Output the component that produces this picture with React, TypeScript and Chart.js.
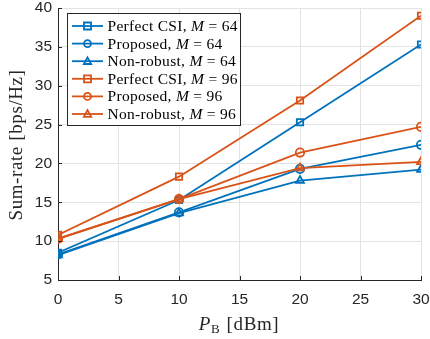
import React, { useEffect, useRef } from "react";
import { Chart, registerables } from "chart.js";
Chart.register(...registerables);

const powers = [0, 10, 20, 30];
const perfect64 = [8.5, 15.3, 25.3, 35.3];
const proposed64 = [8.3, 13.7, 19.3, 22.4];
const nonrobust64 = [8.2, 13.6, 17.8, 19.2];
const perfect96 = [10.8, 18.3, 28.1, 39.0];
const proposed96 = [10.3, 15.4, 21.4, 24.7];
const nonrobust96 = [10.3, 15.4, 19.4, 20.2];
const xTicks = [0, 5, 10, 15, 20, 25, 30];
const yTicks = [5, 10, 15, 20, 25, 30, 35, 40];

const BLUE = "#0072BD";
const ORANGE = "#D95319";

const legendItems = [
  { name: "Perfect CSI, ", m: "64", color: BLUE, style: "rect" },
  { name: "Proposed, ", m: "64", color: BLUE, style: "circle" },
  { name: "Non-robust, ", m: "64", color: BLUE, style: "triangle" },
  { name: "Perfect CSI, ", m: "96", color: ORANGE, style: "rect" },
  { name: "Proposed, ", m: "96", color: ORANGE, style: "circle" },
  { name: "Non-robust, ", m: "96", color: ORANGE, style: "triangle" },
];

const seriesList = [
  { data: perfect64, color: BLUE, style: "rect" },
  { data: proposed64, color: BLUE, style: "circle" },
  { data: nonrobust64, color: BLUE, style: "triangle" },
  { data: perfect96, color: ORANGE, style: "rect" },
  { data: proposed96, color: ORANGE, style: "circle" },
  { data: nonrobust96, color: ORANGE, style: "triangle" },
];

function drawMarker(ctx: CanvasRenderingContext2D, style: string, x: number, y: number, r: number) {
  ctx.beginPath();
  if (style === "rect") {
    ctx.rect(x - r, y - r, 2 * r, 2 * r);
  } else if (style === "circle") {
    ctx.arc(x, y, r, 0, Math.PI * 2);
  } else {
    ctx.moveTo(x, y - r * 1.1);
    ctx.lineTo(x + r * 1.05, y + r * 0.8);
    ctx.lineTo(x - r * 1.05, y + r * 0.8);
    ctx.closePath();
  }
  ctx.stroke();
}

const decorPlugin = {
  id: "decor",
  afterDraw(chart: any) {
    const ctx: any = chart.ctx;
    const xs = chart.scales.x;
    const ys = chart.scales.y;
    const area = chart.chartArea;
    ctx.save();
    // inward ticks
    ctx.strokeStyle = "#262626";
    ctx.lineWidth = 1;
    xTicks.forEach((t) => {
      const px = Math.round(xs.getPixelForValue(t)) + 0.5;
      ctx.beginPath();
      ctx.moveTo(px, area.bottom);
      ctx.lineTo(px, area.bottom - 4);
      ctx.stroke();
    });
    yTicks.forEach((t) => {
      const py = Math.round(ys.getPixelForValue(t)) + 0.5;
      ctx.beginPath();
      ctx.moveTo(area.left, py);
      ctx.lineTo(area.left + 4, py);
      ctx.stroke();
    });

    // y title
    ctx.fillStyle = "#262626";
    ctx.font = "19px 'Liberation Serif'";
    ctx.letterSpacing = "0.6px";
    ctx.textAlign = "center";
    ctx.textBaseline = "middle";
    ctx.save();
    ctx.translate(17, 145);
    ctx.rotate(-Math.PI / 2);
    ctx.fillText("Sum-rate [bps/Hz]", 0, 0);
    ctx.restore();

    // x title: P_B [dBm]
    const cx = 239;
    const ty = 330;
    ctx.textAlign = "left";
    ctx.textBaseline = "alphabetic";
    const fP = "italic 19px 'Liberation Serif'";
    const fSub = "13px 'Liberation Serif'";
    const fR = "19px 'Liberation Serif'";
    ctx.font = fP;
    const wP = ctx.measureText("P").width;
    ctx.font = fSub;
    const wB = ctx.measureText("B").width;
    ctx.font = fR;
    const wR = ctx.measureText(" [dBm]").width;
    let x0 = cx - (wP + wB + 1 + wR) / 2;
    ctx.font = fP;
    ctx.fillText("P", x0, ty);
    x0 += wP;
    ctx.font = fSub;
    ctx.fillText("B", x0, ty + 3);
    x0 += wB + 1;
    ctx.font = fR;
    ctx.fillText(" [dBm]", x0, ty);

    // legend
    ctx.letterSpacing = "0.3px";
    const lx = 67.5, ly = 13.5, lw = 173, lh = 112;
    ctx.fillStyle = "#ffffff";
    ctx.fillRect(lx, ly, lw, lh);
    ctx.strokeStyle = "#262626";
    ctx.lineWidth = 1;
    ctx.strokeRect(lx, ly, lw, lh);
    legendItems.forEach((it, i) => {
      const y = ly + 12.5 + i * 17.6;
      ctx.strokeStyle = it.color;
      ctx.lineWidth = 1.8;
      ctx.beginPath();
      ctx.moveTo(lx + 4.5, y);
      ctx.lineTo(lx + 35.5, y);
      ctx.stroke();
      drawMarker(ctx, it.style, lx + 20, y, 3.5);
      ctx.fillStyle = "#000000";
      ctx.textBaseline = "middle";
      let tx = lx + 40;
      ctx.font = "15.5px 'Liberation Serif'";
      ctx.fillText(it.name, tx, y + 1);
      tx += ctx.measureText(it.name).width;
      ctx.font = "italic 15.5px 'Liberation Serif'";
      ctx.fillText("M", tx, y + 1);
      tx += ctx.measureText("M").width;
      ctx.font = "15.5px 'Liberation Serif'";
      ctx.fillText(" = " + it.m, tx, y + 1);
    });
    ctx.restore();
  },
};

export default function App() {
  const ref = useRef<HTMLCanvasElement>(null);
  useEffect(() => {
    if (!ref.current) return;
    const chart = new Chart(ref.current, {
      type: "line",
      data: {
        datasets: seriesList.map((s, i) => ({
          data: s.data.map((v, j) => ({ x: powers[j], y: v })),
          borderColor: s.color,
          backgroundColor: "rgba(0,0,0,0)",
          pointBackgroundColor: "rgba(0,0,0,0)",
          pointBorderColor: s.color,
          pointStyle: s.style as any,
          pointRadius: s.style === "circle" ? 4.2 : 4.5,
          pointBorderWidth: 1.8,
          borderWidth: 1.8,
          tension: 0,
          order: 6 - i,
        })),
      },
      options: {
        animation: false,
        responsive: false,
        events: [],
        layout: { padding: { left: 0, top: 0, right: 0, bottom: 0 } },
        plugins: { legend: { display: false }, tooltip: { enabled: false } },
        scales: {
          x: {
            type: "linear",
            min: 0,
            max: 30,
            afterFit: (s: any) => { s.height = 59; s.paddingLeft = 0; s.paddingRight = 9; },
            afterBuildTicks: (s: any) => { s.ticks = xTicks.map((v) => ({ value: v })); },
            ticks: { color: "#262626", font: { family: "'Liberation Sans'", size: 15.5 }, padding: 10, maxRotation: 0 },
            grid: { color: "#e3e3e3", lineWidth: 1, tickLength: 0, drawTicks: false },
            border: { color: "#262626", width: 1 },
          },
          y: {
            type: "linear",
            min: 5,
            max: 40,
            afterFit: (s: any) => { s.width = 58; s.paddingTop = 8; s.paddingBottom = 0; },
            afterBuildTicks: (s: any) => { s.ticks = yTicks.map((v) => ({ value: v })); },
            ticks: { color: "#262626", font: { family: "'Liberation Sans'", size: 15.5 }, padding: 6 },
            grid: { color: "#e3e3e3", lineWidth: 1, tickLength: 0, drawTicks: false },
            border: { color: "#262626", width: 1 },
          },
        },
      },
      plugins: [decorPlugin],
    });
    return () => chart.destroy();
  }, []);
  return (
    <div style={{ position: "fixed", left: 0, top: 0, width: 430, height: 339, background: "#fff" }}>
      <canvas ref={ref} width={430} height={339} style={{ width: 430, height: 339 }} />
    </div>
  );
}
